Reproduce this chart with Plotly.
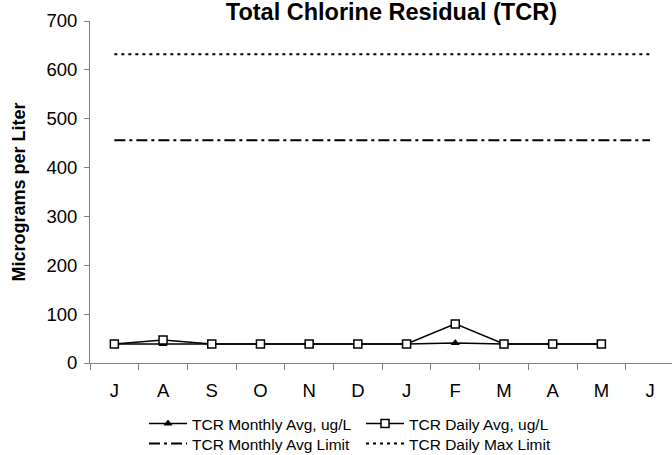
import plotly.graph_objects as go

months = ["J", "A", "S", "O", "N", "D", "J", "F", "M", "A", "M", "J"]
month_idx = [0, 1, 2, 3, 4, 5, 6, 7, 8, 9, 10, 11]
data_idx = [0, 1, 2, 3, 4, 5, 6, 7, 8, 9, 10]
monthly_avg = [39, 39, 39, 39, 39, 39, 39, 41, 39, 39, 39]
daily_avg = [39, 47, 39, 39, 39, 39, 39, 80, 39, 39, 39]
monthly_limit = [456, 456, 456, 456, 456, 456, 456, 456, 456, 456, 456, 456]
daily_max_limit = [632, 632, 632, 632, 632, 632, 632, 632, 632, 632, 632, 632]

FONT = "Liberation Sans, Arial, sans-serif"
W, H = 672, 455
L, R, T, B = 90, 0, 21, 92

fig = go.Figure()
fig.add_trace(go.Scatter(
    x=data_idx, y=monthly_avg, name="TCR Monthly Avg, ug/L", mode="lines+markers",
    line=dict(color="black", width=1.5),
    marker=dict(symbol="triangle-up", size=8, color="black"),
    legend="legend"))
fig.add_trace(go.Scatter(
    x=data_idx, y=daily_avg, name="TCR Daily Avg, ug/L", mode="lines+markers",
    line=dict(color="black", width=1.5),
    marker=dict(symbol="square", size=8, color="white", line=dict(color="black", width=1.5)),
    legend="legend"))
fig.add_trace(go.Scatter(
    x=month_idx, y=monthly_limit, name="TCR Monthly Avg Limit", mode="lines",
    line=dict(color="black", width=2, dash="11px,4px,3px,4px"),
    legend="legend2"))
fig.add_trace(go.Scatter(
    x=month_idx, y=daily_max_limit, name="TCR Daily Max Limit", mode="lines",
    line=dict(color="black", width=2, dash="3px,4px"),
    legend="legend2"))

pw = W - L - R
def px_x(p):
    return (p - L) / pw

legend_common = dict(
    orientation="h", xref="paper", yref="container", xanchor="left", yanchor="middle",
    font=dict(family=FONT, size=15.5, color="black"),
    bgcolor="rgba(0,0,0,0)", entrywidth=164, entrywidthmode="pixels", itemwidth=38,
    itemclick=False, itemdoubleclick=False, tracegroupgap=0,
)

fig.update_layout(
    width=W, height=H,
    margin=dict(l=L, r=R, t=T, b=B, pad=0),
    paper_bgcolor="white", plot_bgcolor="white",
    font=dict(family=FONT, size=15, color="black"),
    title=dict(text="<b>Total Chlorine Residual (TCR)</b>", xref="container", yref="container",
               x=557 / W, xanchor="right", y=1 - 12 / H, yanchor="middle",
               font=dict(family=FONT, size=23.5, color="black")),
    showlegend=True,
    legend=dict(x=px_x(144), y=1 - 424 / H, **legend_common),
    legend2=dict(x=px_x(144), y=1 - 444 / H, **legend_common),
    xaxis=dict(
        range=[-0.5, 11.45], tickmode="array", tickvals=month_idx, ticktext=months,
        ticks="", showgrid=False, zeroline=False, ticklabelstandoff=11,
        showline=True, linecolor="#808080", linewidth=1,
        tickfont=dict(family=FONT, size=18.5, color="black"),
        minor=dict(tickmode="array", tickvals=[-0.5, 0.5, 1.5, 2.5, 3.5, 4.5, 5.5, 6.5, 7.5, 8.5, 9.5, 10.5, 11.5],
                   ticks="outside", ticklen=6, tickcolor="#808080", tickwidth=1, showgrid=False),
        fixedrange=True, automargin=False,
    ),
    yaxis=dict(
        range=[0, 700], tickmode="linear", tick0=0, dtick=100,
        ticks="outside", ticklen=5, tickcolor="#808080", tickwidth=1, ticklabelstandoff=3,
        showgrid=False, zeroline=False,
        showline=True, linecolor="#808080", linewidth=1,
        tickfont=dict(family=FONT, size=18.5, color="black"),
        title=dict(text="<b>Micrograms per Liter</b>", standoff=16,
                   font=dict(family=FONT, size=18, color="black")),
        fixedrange=True, automargin=False,
    ),
)

fig.write_html(
    "out.html",
    config={"displayModeBar": False},
    post_script="document.body.style.margin='0';document.body.style.overflow='hidden';",
)
